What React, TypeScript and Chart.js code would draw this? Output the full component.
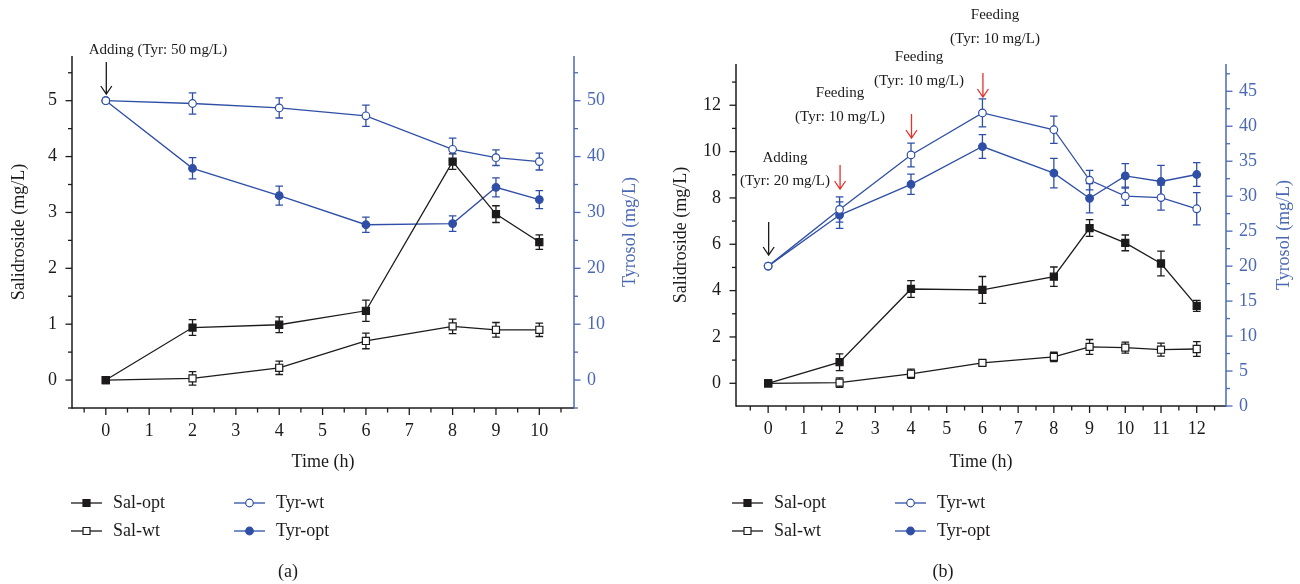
import React, { useEffect, useRef } from 'react';
import { Chart, registerables } from 'chart.js';

Chart.register(...registerables);

const FONT = '"Liberation Serif", "Times New Roman", serif';
const BLUE = '#2f4fa6';
const AXIS_BLUE = '#4a68b4';
const INK = '#1c1a1a';
const RED = '#e5322d';

// ---------- Panel (a) data ----------
const timeA = [0, 2, 4, 6, 8, 9, 10];
const salOptA = [0, 0.94, 0.99, 1.24, 3.91, 2.97, 2.47];
const salOptAErr = [0, 0.14, 0.14, 0.19, 0.14, 0.15, 0.13];
const salWtA = [0, 0.03, 0.22, 0.7, 0.96, 0.9, 0.9];
const salWtAErr = [0, 0.12, 0.12, 0.14, 0.13, 0.13, 0.12];
const tyrWtA = [50, 49.5, 48.7, 47.3, 41.3, 39.8, 39.1];
const tyrWtAErr = [0, 1.9, 1.8, 1.9, 2.0, 1.4, 1.5];
const tyrOptA = [50, 37.9, 33.0, 27.8, 28.0, 34.5, 32.3];
const tyrOptAErr = [0, 1.9, 1.7, 1.35, 1.4, 1.7, 1.6];

const xTicksA = [0, 1, 2, 3, 4, 5, 6, 7, 8, 9, 10];
const yLeftTicksA = [0, 1, 2, 3, 4, 5];
const yRightTicksA = [0, 10, 20, 30, 40, 50];

// ---------- Panel (b) data ----------
const timeB = [0, 2, 4, 6, 8, 9, 10, 11, 12];
const salOptB = [0, 0.91, 4.07, 4.03, 4.6, 6.7, 6.06, 5.17, 3.34];
const salOptBErr = [0, 0.36, 0.36, 0.58, 0.42, 0.36, 0.34, 0.53, 0.24];
const salWtB = [0, 0.03, 0.41, 0.88, 1.14, 1.57, 1.54, 1.45, 1.48];
const salWtBErr = [0, 0.2, 0.2, 0.1, 0.2, 0.32, 0.24, 0.28, 0.32];
const tyrWtB = [20, 28.1, 35.9, 41.9, 39.5, 32.3, 30.0, 29.8, 28.2];
const tyrWtBErr = [0, 1.8, 1.7, 2.0, 1.95, 1.4, 1.3, 1.8, 2.3];
const tyrOptB = [20, 27.3, 31.7, 37.1, 33.3, 29.7, 32.9, 32.1, 33.1];
const tyrOptBErr = [0, 1.9, 1.45, 1.7, 2.1, 2.1, 1.75, 2.3, 1.7];

const xTicksB = [0, 1, 2, 3, 4, 5, 6, 7, 8, 9, 10, 11, 12];
const yLeftTicksB = [0, 2, 4, 6, 8, 10, 12];
const yRightTicksB = [0, 5, 10, 15, 20, 25, 30, 35, 40, 45];

const seriesNames = ['Sal-opt', 'Sal-wt', 'Tyr-wt', 'Tyr-opt'];

type Note = { lines: string[]; cx: number; cy: number[]; arrowT: number; arrowTop: number; arrowTip: number; color: string };

type Panel = {
  id: string;
  letter: string;
  time: number[];
  series: number[][];
  errors: number[][];
  xMin: number; xMax: number; xTicks: number[]; xMinorStep: number;
  yMin: number; yMax: number; yTicks: number[]; yMinorStep: number;
  rMin: number; rMax: number; rTicks: number[]; rMinorStep: number;
  pad: { left: number; right: number; top: number; bottom: number };
  titles: { salX: number; tyrX: number; timeY: number };
  legend: { x1: number; x2: number; rows: number[]; letterX: number; letterY: number };
  notes: Note[];
};

const panelA: Panel = {
  id: 'a', letter: '(a)', time: timeA,
  series: [salOptA, salWtA, tyrWtA, tyrOptA],
  errors: [salOptAErr, salWtAErr, tyrWtAErr, tyrOptAErr],
  xMin: -0.78, xMax: 10.8, xTicks: xTicksA, xMinorStep: 0.5,
  yMin: -0.5, yMax: 5.8, yTicks: yLeftTicksA, yMinorStep: 0.5,
  rMin: -5, rMax: 58, rTicks: yRightTicksA, rMinorStep: 5,
  pad: { left: 72, right: 76, top: 56, bottom: 176 },
  titles: { salX: 19, tyrX: 630, timeY: 462 },
  legend: { x1: 71, x2: 234, rows: [503, 531], letterX: 288, letterY: 572 },
  notes: [
    { lines: ['Adding (Tyr: 50 mg/L)'], cx: 158, cy: [50], arrowT: 0, arrowTop: 62, arrowTip: 94, color: INK },
  ],
};

const panelB: Panel = {
  id: 'b', letter: '(b)', time: timeB,
  series: [salOptB, salWtB, tyrWtB, tyrOptB],
  errors: [salOptBErr, salWtBErr, tyrWtBErr, tyrOptBErr],
  xMin: -0.9, xMax: 12.82, xTicks: xTicksB, xMinorStep: 0.5,
  yMin: -0.98, yMax: 13.78, yTicks: yLeftTicksB, yMinorStep: 1,
  rMin: 0, rMax: 48.9, rTicks: yRightTicksB, rMinorStep: 2.5,
  pad: { left: 86, right: 74, top: 64, bottom: 178 },
  titles: { salX: 31, tyrX: 634, timeY: 462 },
  legend: { x1: 82, x2: 245, rows: [503, 531], letterX: 293, letterY: 572 },
  notes: [
    { lines: ['Adding', '(Tyr: 20 mg/L)'], cx: 135, cy: [158, 181], arrowT: 0, arrowTop: 222, arrowTip: 255, color: INK },
    { lines: ['Feeding', '(Tyr: 10 mg/L)'], cx: 190, cy: [93, 117], arrowT: 2, arrowTop: 165, arrowTip: 189, color: RED },
    { lines: ['Feeding', '(Tyr: 10 mg/L)'], cx: 269, cy: [57, 81], arrowT: 4, arrowTop: 114, arrowTip: 138, color: RED },
    { lines: ['Feeding', '(Tyr: 10 mg/L)'], cx: 345, cy: [15, 39], arrowT: 6, arrowTop: 73, arrowTip: 97, color: RED },
  ],
};

const styles = [
  { color: INK, shape: 'rect', fill: INK, axis: 'y' },
  { color: INK, shape: 'rect', fill: '#ffffff', axis: 'y' },
  { color: BLUE, shape: 'circle', fill: '#ffffff', axis: 'y1' },
  { color: BLUE, shape: 'circle', fill: BLUE, axis: 'y1' },
];

function minorValues(min: number, max: number, step: number) {
  const out: number[] = [];
  const start = Math.ceil(min / step - 1e-9);
  for (let k = start; k * step <= max + 1e-9; k++) out.push(k * step);
  return out;
}

function drawMarker(ctx: CanvasRenderingContext2D, shape: string, x: number, y: number, fill: string, stroke: string) {
  ctx.save();
  ctx.fillStyle = fill;
  ctx.strokeStyle = stroke;
  ctx.lineWidth = 1.2;
  ctx.beginPath();
  if (shape === 'rect') {
    ctx.rect(x - 3.5, y - 3.5, 7, 7);
  } else {
    ctx.arc(x, y, 3.8, 0, Math.PI * 2);
  }
  ctx.fill();
  ctx.stroke();
  ctx.restore();
}

function makePlugin(p: Panel) {
  return {
    id: 'custom_' + p.id,
    beforeDatasetsDraw(chart: any) {
      const ctx: CanvasRenderingContext2D = chart.ctx;
      chart.data.datasets.forEach((ds: any, di: number) => {
        const meta = chart.getDatasetMeta(di);
        const ys = chart.scales[ds.yAxisID];
        ds.errs.forEach((e: number, i: number) => {
          if (!e) return;
          const v = ds.data[i].y;
          const x = meta.data[i].x;
          const yt = ys.getPixelForValue(v + e);
          const yb = ys.getPixelForValue(v - e);
          ctx.save();
          ctx.strokeStyle = ds.borderColor;
          ctx.lineWidth = 1.3;
          ctx.beginPath();
          ctx.moveTo(x, yt); ctx.lineTo(x, yb);
          ctx.moveTo(x - 3.8, yt); ctx.lineTo(x + 3.8, yt);
          ctx.moveTo(x - 3.8, yb); ctx.lineTo(x + 3.8, yb);
          ctx.stroke();
          ctx.restore();
        });
      });
    },
    afterDraw(chart: any) {
      const ctx: CanvasRenderingContext2D = chart.ctx;
      const { left, right, top, bottom } = chart.chartArea;
      const xs = chart.scales.x, ys = chart.scales.y, rs = chart.scales.y1;
      const line = (x1: number, y1: number, x2: number, y2: number, c: string, w = 1.4) => {
        ctx.save();
        ctx.strokeStyle = c; ctx.lineWidth = w;
        ctx.beginPath(); ctx.moveTo(x1, y1); ctx.lineTo(x2, y2); ctx.stroke();
        ctx.restore();
      };
      // axes
      line(left, top, left, bottom + 0.7, INK, 1.5);
      line(left, bottom, right, bottom, INK, 1.5);
      line(right, top, right, bottom + 0.7, AXIS_BLUE, 1.5);
      // x ticks
      minorValues(p.xMin, p.xMax, p.xMinorStep).forEach((v) => {
        const major = p.xTicks.includes(v);
        const x = xs.getPixelForValue(v);
        line(x, bottom, x, bottom + (major ? 7 : 4.5), INK, 1.3);
      });
      minorValues(p.yMin, p.yMax, p.yMinorStep).forEach((v) => {
        const major = p.yTicks.includes(v);
        const y = ys.getPixelForValue(v);
        line(left - (major ? 6.5 : 4), y, left, y, INK, 1.3);
      });
      minorValues(p.rMin, p.rMax, p.rMinorStep).forEach((v) => {
        const major = p.rTicks.includes(v);
        const y = rs.getPixelForValue(v);
        line(right, y, right + (major ? 6.5 : 4), y, AXIS_BLUE, 1.3);
      });
      // axis titles
      ctx.save();
      ctx.font = `18px ${FONT}`;
      ctx.textAlign = 'center';
      ctx.textBaseline = 'middle';
      ctx.fillStyle = INK;
      ctx.fillText('Time (h)', (left + right) / 2, p.titles.timeY);
      const midY = (top + bottom) / 2;
      ctx.save();
      ctx.translate(p.titles.salX, midY);
      ctx.rotate(-Math.PI / 2);
      ctx.fillText('Salidroside (mg/L)', 0, 0);
      ctx.restore();
      ctx.save();
      ctx.translate(p.titles.tyrX, midY);
      ctx.rotate(-Math.PI / 2);
      ctx.fillStyle = AXIS_BLUE;
      ctx.fillText('Tyrosol (mg/L)', 0, 0);
      ctx.restore();
      ctx.restore();
      // annotations
      p.notes.forEach((n) => {
        ctx.save();
        ctx.font = `15px ${FONT}`;
        ctx.textAlign = 'center';
        ctx.textBaseline = 'middle';
        ctx.fillStyle = INK;
        n.lines.forEach((t, i) => ctx.fillText(t, n.cx, n.cy[i]));
        const ax = xs.getPixelForValue(n.arrowT) + 0.5;
        ctx.strokeStyle = n.color;
        ctx.lineWidth = 1.3;
        ctx.beginPath();
        ctx.moveTo(ax, n.arrowTop); ctx.lineTo(ax, n.arrowTip);
        ctx.moveTo(ax - 5.5, n.arrowTip - 8); ctx.lineTo(ax, n.arrowTip); ctx.lineTo(ax + 5.5, n.arrowTip - 8);
        ctx.stroke();
        ctx.restore();
      });
      // legend
      const L = p.legend;
      seriesNames.forEach((name, i) => {
        const st = styles[i];
        const x0 = i < 2 ? L.x1 : L.x2;
        const y = L.rows[i % 2];
        line(x0, y, x0 + 31, y, st.color, 1.3);
        drawMarker(ctx, st.shape, x0 + 15.5, y, st.fill, st.color);
        ctx.save();
        ctx.font = `18px ${FONT}`;
        ctx.textAlign = 'left';
        ctx.textBaseline = 'middle';
        ctx.fillStyle = INK;
        ctx.fillText(name, x0 + 42, y);
        ctx.restore();
      });
      ctx.save();
      ctx.font = `18px ${FONT}`;
      ctx.textAlign = 'center';
      ctx.textBaseline = 'middle';
      ctx.fillStyle = INK;
      ctx.fillText(p.letter, L.letterX, L.letterY);
      ctx.restore();
    },
  };
}

function buildChart(canvas: HTMLCanvasElement, p: Panel) {
  const datasets = p.series.map((vals, i) => {
    const st = styles[i];
    return {
      label: seriesNames[i],
      data: p.time.map((t, k) => ({ x: t, y: vals[k] })),
      errs: p.errors[i],
      yAxisID: st.axis,
      borderColor: st.color,
      backgroundColor: st.fill,
      borderWidth: 1.3,
      pointStyle: st.shape,
      pointRadius: st.shape === 'rect' ? 5 : 3.8,
      pointBorderWidth: 1.2,
      pointBackgroundColor: st.fill,
      pointBorderColor: st.color,
      tension: 0,
      fill: false,
      clip: false,
    };
  });
  const tickFont = { family: FONT, size: 18 };
  const setTicks = (arr: number[]) => (scale: any) => {
    scale.ticks = arr.map((v) => ({ value: v }));
  };
  return new Chart(canvas, {
    type: 'line',
    data: { datasets: datasets as any },
    plugins: [makePlugin(p) as any],
    options: {
      responsive: false,
      maintainAspectRatio: false,
      devicePixelRatio: 1,
      animation: false,
      events: [],
      layout: { padding: { top: p.pad.top, left: 0, right: 0, bottom: 0 } },
      plugins: { legend: { display: false }, tooltip: { enabled: false } },
      scales: {
        x: {
          type: 'linear',
          min: p.xMin,
          max: p.xMax,
          afterBuildTicks: setTicks(p.xTicks),
          afterFit: (s: any) => { s.height = p.pad.bottom; },
          grid: { display: false, drawTicks: false },
          border: { display: false },
          ticks: { font: tickFont, color: INK, padding: 12, autoSkip: false, maxRotation: 0 },
        },
        y: {
          type: 'linear',
          position: 'left',
          min: p.yMin,
          max: p.yMax,
          afterBuildTicks: setTicks(p.yTicks),
          afterFit: (s: any) => { s.width = p.pad.left; },
          grid: { display: false, drawTicks: false },
          border: { display: false },
          ticks: { font: tickFont, color: INK, padding: 15, autoSkip: false },
        },
        y1: {
          type: 'linear',
          position: 'right',
          min: p.rMin,
          max: p.rMax,
          afterBuildTicks: setTicks(p.rTicks),
          afterFit: (s: any) => { s.width = p.pad.right; },
          grid: { display: false, drawTicks: false },
          border: { display: false },
          ticks: { font: tickFont, color: AXIS_BLUE, padding: 13, autoSkip: false },
        },
      },
    } as any,
  });
}

function PanelChart({ panel, left }: { panel: Panel; left: number }) {
  const ref = useRef<HTMLCanvasElement | null>(null);
  useEffect(() => {
    if (!ref.current) return;
    const chart = buildChart(ref.current, panel);
    return () => chart.destroy();
  }, [panel]);
  return (
    <canvas
      ref={ref}
      width={650}
      height={584}
      style={{ position: 'absolute', left, top: 0, width: 650, height: 584, display: 'block' }}
    />
  );
}

export default function App() {
  return (
    <div style={{ position: 'absolute', left: 0, top: 0, width: 1300, height: 584, background: '#ffffff', overflow: 'hidden' }}>
      <PanelChart panel={panelA} left={0} />
      <PanelChart panel={panelB} left={650} />
    </div>
  );
}
